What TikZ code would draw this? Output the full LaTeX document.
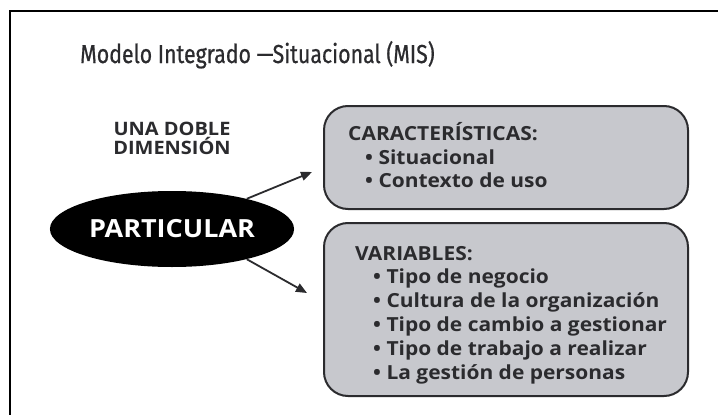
\documentclass[tikz,border=0pt]{standalone}
\usepackage{fontspec}
\setmainfont[BoldFeatures={FakeStretch=1.08}]{Open Sans}
\newfontfamily\titlefont[FakeStretch=0.82, FakeBold=0.6]{Fira Sans}
\usetikzlibrary{shapes.geometric,arrows.meta}
\definecolor{boxgray}{HTML}{C7C8CD}
\definecolor{ink}{HTML}{2B2B2E}
\tikzset{
  infobox/.style={draw=ink, line width=2pt, fill=boxgray, rounded corners=24pt,
    anchor=north west, minimum width=364pt, inner sep=0pt},
  itemtext/.style={anchor=base west, inner sep=0pt, text=ink,
    font=\bfseries\fontsize{19.4}{24}\selectfont},
  flecha/.style={-{Triangle[length=11pt,width=9pt]}, line width=1.8pt, ink},
}
\begin{document}
\begin{tikzpicture}[x=1pt,y=-1pt]
    % Marco de la figura
    \useasboundingbox (0,0) rectangle (718,415);
    \clip (0,0) rectangle (718,415);
    \fill[white] (0,0) rectangle (718,415);
    \draw[line width=1.5pt, black] (10,11) rectangle (760,460);

    % Titulo
    \node[anchor=base west, inner sep=0pt, text=ink,
      font=\titlefont\fontsize{26}{30}\selectfont] (titulo) at (80,63)
      {Modelo Integrado —Situacional (MIS)};

    % Lado izquierdo
    \node[align=center, inner sep=0pt, text=ink,
      font=\bfseries\fontsize{18.5}{19}\selectfont] (dimension) at (172,138)
      {UNA DOBLE\\DIMENSIÓN};
    \node[ellipse, fill=black, minimum width=200pt, minimum height=76pt, text=white,
      font=\bfseries\fontsize{25}{28}\selectfont] (particular) at (172,229) {PARTICULAR};

    % Cajas
    \node[infobox, minimum height=103pt] (caract) at (323,105) {};
    \node[infobox, minimum height=173pt] (variab) at (323,222) {};

    % Textos de las cajas
    \node[itemtext] (titcaract) at (348,140) {CARACTERÍSTICAS:};
    \foreach \txt [count=\i] in {Situacional, Contexto de uso}
        \node[itemtext] (car\i) at (365,140.5+23.5*\i) {\textbullet\ \txt};
    \node[itemtext] (titvariab) at (355,260) {VARIABLES:};
    \foreach \txt [count=\i] in {Tipo de negocio, Cultura de la organización,
        Tipo de cambio a gestionar, Tipo de trabajo a realizar, La gestión de personas}
        \node[itemtext] (var\i) at (373,259+24*\i) {\textbullet\ \txt};

    % Flechas
    \coordinate (punta1) at (312,172);
    \coordinate (punta2) at (307,293);
    \draw[flecha] (particular.22) -- (punta1);
    \draw[flecha] (particular.-22) -- (punta2);
\end{tikzpicture}
\end{document}
